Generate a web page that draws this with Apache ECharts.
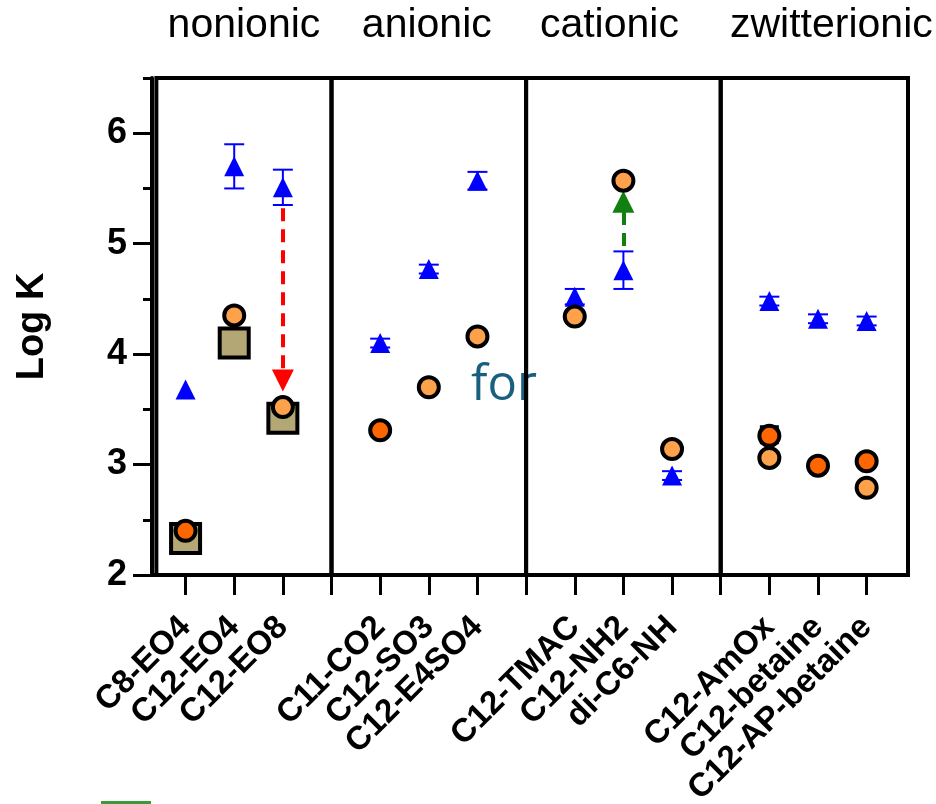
<!DOCTYPE html>
<html>
<head>
<meta charset="utf-8">
<script src="https://cdn.jsdelivr.net/npm/echarts@6/dist/echarts.min.js"></script>
<style>
  html, body { margin: 0; padding: 0; background: #fff; }
  #chart { width: 936px; height: 804px; }
</style>
</head>
<body>
<div id="chart"></div>
<script>
// categories, three per surfactant class
const categories = ['C8-EO4', 'C12-EO4', 'C12-EO8', 'C11-CO2', 'C12-SO3', 'C12-E4SO4',
  'C12-TMAC', 'C12-NH2', 'di-C6-NH', 'C12-AmOx', 'C12-betaine', 'C12-AP-betaine']
const groups = ['nonionic', 'anionic', 'cationic', 'zwitterionic']
const yTicks = [2, 3, 4, 5, 6]
const yMinorTicks = [2.5, 3.5, 4.5, 5.5, 6.5]

// blue triangles (mean and error)
const triangleValues = [3.68, 5.70, 5.51, 4.10, 4.77, 5.57, 4.52, 4.76, 2.90, 4.48, 4.32, 4.30]
const triangleErrors = [0, 0.20, 0.16, 0.04, 0.04, 0.08, 0.07, 0.17, 0.04, 0.04, 0.04, 0.04]
// light orange circles
const lightCircles = [null, 4.35, 3.52, null, 3.70, 4.16, 4.34, 5.57, 3.14, 3.06, null, 2.79]
// dark orange circles
const darkCircles = [2.40, null, null, 3.31, null, null, null, null, null, 3.26, 2.99, 3.03]
// tan squares
const squares = [2.33, 4.10, 3.42, null, null, null, null, null, null, null, null, null]
// black square behind C12-AmOx
const blackSquares = [null, null, null, null, null, null, null, null, null, 3.27, null, null]
// dashed arrows: [category index, from, to]
const redArrow = [2, 5.32, 3.76]
const greenArrow = [7, 4.98, 5.38]

// one empty slot between groups
const xPos = i => i + Math.floor(i / 3)
const pts = arr => arr.map((v, i) => v == null ? null : [xPos(i), v]).filter(d => d)

const xMin = -0.69
const xMax = 14.85
const groupEdges = [-0.6, 3, 7, 11, xMax]
const dividers = [3, 7, 11]
const titleOffsets = [[0, 0], [-2, 0], [-14, 0], [17, 0]]

const chart = echarts.init(document.getElementById('chart'))
const font = 'Liberation Sans'

chart.setOption({
  animation: false,
  grid: { left: 152, right: 28, top: 78, bottom: 229, outerBoundsMode: 'none' },
  xAxis: {
    type: 'value',
    min: xMin,
    max: xMax,
    splitLine: { show: false },
    axisLine: { onZero: false, lineStyle: { color: '#000', width: 4 } },
    axisTick: {
      customValues: categories.map((c, i) => xPos(i)).concat(dividers),
      length: 20,
      lineStyle: { color: '#000', width: 3 }
    },
    axisLabel: {
      customValues: categories.map((c, i) => xPos(i)),
      formatter: v => categories[v - Math.floor(v / 4)],
      rotate: 45,
      margin: 47,
      color: '#000',
      fontFamily: font,
      fontWeight: 'bold',
      fontSize: 33
    }
  },
  yAxis: [{
    type: 'value',
    min: 2,
    max: 6.5,
    interval: 1,
    name: 'Log K',
    nameLocation: 'middle',
    nameGap: 100,
    nameTextStyle: { color: '#000', fontFamily: font, fontWeight: 'bold', fontSize: 38 },
    splitLine: { show: false },
    axisLine: { show: true, onZero: false, lineStyle: { color: '#000', width: 4 } },
    axisTick: { show: true, customValues: yTicks, length: 19, lineStyle: { color: '#000', width: 3 } },
    axisLabel: {
      customValues: yTicks,
      margin: 25,
      color: '#000',
      fontFamily: font,
      fontWeight: 'bold',
      fontSize: 36
    }
  }, {
    type: 'value',
    position: 'left',
    min: 2,
    max: 6.5,
    splitLine: { show: false },
    axisLine: { show: false, onZero: false },
    axisLabel: { show: false },
    axisTick: { show: true, customValues: yMinorTicks, length: 9, lineStyle: { color: '#000', width: 3 } }
  }],
  graphic: [{
    type: 'text',
    left: 471,
    top: 362,
    style: { text: 'for', font: '49px "Open Sans"', fill: '#1b5f7e' }
  }, {
    type: 'rect',
    left: 101,
    top: 801,
    shape: { width: 50, height: 3 },
    style: { fill: '#3a9a3a' }
  }],
  series: [
    {
      name: 'squares',
      type: 'scatter',
      clip: false,
      symbol: 'rect',
      symbolSize: 29,
      itemStyle: { color: '#b3a775', borderColor: '#000', borderWidth: 4, opacity: 1 },
      data: pts(squares),
      markArea: {
        silent: true,
        itemStyle: { color: 'rgba(0,0,0,0)', borderColor: '#000', borderWidth: 4 },
        label: {
          show: true,
          position: 'top',
          distance: 30,
          color: '#000',
          fontFamily: font,
          fontSize: 41
        },
        data: groups.map((g, k) => [
          { name: g, xAxis: groupEdges[k], yAxis: 2, label: { offset: titleOffsets[k] } },
          { xAxis: groupEdges[k + 1], yAxis: 6.5 }
        ])
      }
    },
    {
      name: 'black',
      type: 'scatter',
      symbol: 'rect',
      symbolSize: 19,
      itemStyle: { color: '#000', opacity: 1 },
      data: pts(blackSquares)
    },
    {
      name: 'error',
      type: 'custom',
      data: triangleValues.map((v, i) => [xPos(i), v - triangleErrors[i], v + triangleErrors[i]])
        .filter(d => d[2] > d[1]),
      encode: { x: 0, y: [1, 2] },
      renderItem: (params, api) => {
        const lo = api.coord([api.value(0), api.value(1)])
        const hi = api.coord([api.value(0), api.value(2)])
        const w = 10
        const style = { stroke: '#0000ff', lineWidth: 2 }
        return {
          type: 'group',
          children: [
            { type: 'line', shape: { x1: lo[0], y1: lo[1], x2: hi[0], y2: hi[1] }, style },
            { type: 'line', shape: { x1: lo[0] - w, y1: lo[1], x2: lo[0] + w, y2: lo[1] }, style },
            { type: 'line', shape: { x1: hi[0] - w, y1: hi[1], x2: hi[0] + w, y2: hi[1] }, style }
          ]
        }
      }
    },
    {
      name: 'triangles',
      type: 'scatter',
      symbol: 'triangle',
      symbolSize: 20,
      itemStyle: { color: '#0000ff', opacity: 1 },
      data: pts(triangleValues)
    },
    {
      name: 'arrows',
      type: 'lines',
      coordinateSystem: 'cartesian2d',
      symbol: ['none', 'triangle'],
      symbolSize: [20, 22],
      lineStyle: { width: 4, type: [13, 8], opacity: 1 },
      data: [
        { coords: [[xPos(redArrow[0]), redArrow[1]], [xPos(redArrow[0]), redArrow[2]]], lineStyle: { color: '#ff0000' } },
        { coords: [[xPos(greenArrow[0]), greenArrow[1]], [xPos(greenArrow[0]), greenArrow[2]]], lineStyle: { color: '#118011' } }
      ]
    },
    {
      name: 'light',
      type: 'scatter',
      symbolSize: 20,
      itemStyle: { color: '#fda24a', borderColor: '#000', borderWidth: 4, opacity: 1 },
      data: pts(lightCircles)
    },
    {
      name: 'dark',
      type: 'scatter',
      symbolSize: 20,
      itemStyle: { color: '#ff6600', borderColor: '#000', borderWidth: 4, opacity: 1 },
      data: pts(darkCircles)
    }
  ]
})
</script>
</body>
</html>
